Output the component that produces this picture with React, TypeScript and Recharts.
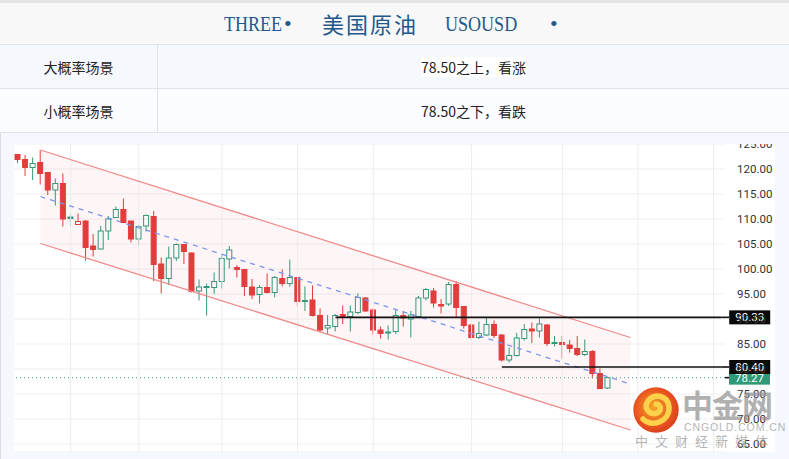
import React from 'react'
import { ComposedChart, Bar, Line, Area, XAxis, YAxis, CartesianGrid, ReferenceLine } from 'recharts'

// weekly candles, oldest first
const opens = [
  122.9, 121.9, 120.3, 121.3, 119.3, 115.8, 117.1, 110.4, 108.9, 109.6,
  104.6, 104.0, 107.6, 110.3, 111.9, 109.6, 106.0, 108.6, 110.5, 101.0,
  98.1, 102.2, 104.9, 103.2, 95.6, 96.3, 96.3, 97.5, 102.0, 100.3,
  99.9, 96.4, 94.9, 96.3, 95.3, 98.1, 97.1, 98.3, 93.6, 93.8,
  90.7, 88.2, 88.5, 90.9, 90.5, 91.3, 94.2, 91.8, 87.8, 87.2,
  87.5, 90.7, 90.0, 90.5, 94.2, 95.6, 92.9, 93.0, 96.9, 92.5,
  88.8, 86.3, 86.8, 88.9, 86.8, 81.8, 82.7, 86.1, 88.0, 87.6,
  88.8, 85.1, 85.3, 84.8, 84.1, 82.9, 83.5, 79.1, 76.2,
]
const highs = [
  123.0, 122.8, 122.3, 123.8, 119.4, 118.1, 119.1, 111.0, 111.1, 109.7,
  107.0, 108.6, 110.6, 112.5, 114.1, 109.6, 108.9, 110.9, 111.6, 102.3,
  104.5, 105.1, 105.0, 103.3, 97.9, 97.1, 99.3, 102.8, 104.6, 100.8,
  100.0, 98.0, 96.8, 99.1, 98.6, 99.9, 101.9, 98.4, 96.5, 96.7,
  92.1, 90.8, 91.0, 92.7, 92.7, 95.1, 94.4, 92.1, 88.5, 88.7,
  91.8, 91.6, 91.6, 94.6, 96.2, 96.2, 94.0, 97.4, 97.6, 92.6,
  89.0, 89.5, 90.3, 89.7, 87.0, 84.3, 87.2, 89.0, 89.3, 90.1,
  89.0, 86.6, 86.6, 85.8, 86.6, 85.9, 83.8, 80.1, 78.3,
]
const lows = [
  121.2, 118.6, 117.8, 116.9, 114.8, 112.7, 108.5, 108.6, 108.8, 101.7,
  102.5, 103.9, 105.8, 110.2, 109.2, 105.3, 104.7, 107.5, 97.6, 95.1,
  96.8, 101.6, 101.0, 95.3, 93.7, 90.7, 95.0, 96.1, 100.1, 98.3,
  94.6, 94.0, 93.1, 95.1, 94.3, 96.5, 96.5, 92.5, 91.6, 90.5,
  87.5, 86.9, 87.5, 89.0, 87.5, 91.0, 91.4, 86.9, 86.1, 85.9,
  87.0, 88.5, 86.3, 90.3, 93.7, 92.3, 91.1, 92.6, 90.3, 88.1,
  85.9, 86.0, 86.6, 86.2, 81.5, 81.3, 82.5, 85.7, 85.2, 86.3,
  84.6, 84.5, 82.1, 83.3, 82.6, 82.6, 78.1, 76.0, 76.0,
]
const closes = [
  121.9, 120.3, 121.1, 119.1, 115.8, 117.1, 110.0, 110.1, 109.5, 104.3,
  103.9, 107.6, 110.0, 111.9, 109.3, 106.0, 108.5, 110.7, 100.9, 98.1,
  102.2, 104.9, 103.5, 95.5, 96.4, 96.5, 97.5, 102.1, 103.8, 99.9,
  96.5, 94.8, 96.3, 95.3, 98.3, 97.1, 98.3, 93.5, 93.7, 90.7,
  87.8, 88.7, 90.7, 90.5, 91.4, 94.3, 91.6, 87.8, 87.1, 87.4,
  90.7, 90.2, 90.8, 94.2, 95.9, 93.2, 92.6, 96.9, 92.3, 88.7,
  86.3, 87.1, 88.9, 86.7, 81.8, 82.7, 86.2, 87.9, 87.6, 89.0,
  85.1, 85.3, 84.9, 84.1, 82.9, 83.5, 79.1, 76.1, 78.27,
]

const slotCount = 94 // candles + empty space on the right
const gridSlots = [7, 16, 27, 37, 47, 60, 72, 82, 92]
const priceTicks = [65, 70, 75, 80, 85, 90, 95, 100, 105, 110, 115, 120, 125]

// descending channel, drawn between two anchor candles
const channelSlots = [3, 81]
const upperEdge = [123.8, 86.3]
const lowerEdge = [105.1, 67.8]
const midLine = [114.5, 77.0]

const resistance = 90.33
const resistanceFrom = 42
const support = 80.4
const supportFrom = 64
const lastPrice = 78.27

const RED = '#e23c3c'
const GREEN = '#35987a'
const TAG_GREEN = '#2e9a7a'

type Row = {
  i: number
  o?: number; h?: number; l?: number; c?: number; pc?: number
  chHi?: number; chLo?: number; chMid?: number
}

const rows: Row[] = Array.from({ length: slotCount }, (_, i) => {
  const r: Row = { i }
  if (i < closes.length) {
    r.o = opens[i]; r.h = highs[i]; r.l = lows[i]; r.c = closes[i]
    r.pc = i > 0 ? closes[i - 1] : opens[i]
  }
  const k = channelSlots.indexOf(i)
  if (k >= 0) {
    r.chHi = upperEdge[k]; r.chLo = lowerEdge[k]; r.chMid = midLine[k]
  }
  return r
})

// hollow candles: body filled when close < open, colour from close vs previous close
function Candle(props: any) {
  const { x, y, width, height, payload } = props
  if (!payload || payload.o == null || !isFinite(y) || !isFinite(height)) return null
  const { o, h, l, c, pc } = payload
  const top = Math.min(y, y + height)
  const span = Math.abs(height)
  const k = h > l ? span / (h - l) : 0
  const py = (v: number) => top + (h - v) * k
  const cx = x + width / 2
  const color = c >= pc ? GREEN : RED
  const hollow = c > o
  const bTop = py(Math.max(o, c))
  const bh = Math.max(py(Math.min(o, c)) - bTop, 1)
  return (
    <g>
      <line x1={cx} x2={cx} y1={py(h)} y2={bTop} stroke={color} strokeWidth={1} />
      <line x1={cx} x2={cx} y1={bTop + bh} y2={py(l)} stroke={color} strokeWidth={1} />
      <rect x={x} y={bTop} width={width} height={bh} fill={hollow ? 'none' : color} stroke={color} strokeWidth={1} />
    </g>
  )
}

function PriceTick({ x, y, payload }: any) {
  return (
    <text x={x} y={y} dy="0.36em" textAnchor="start" fill="#333" fontSize={11.5} fontFamily="Roboto, sans-serif">
      {Number(payload.value).toFixed(2)}
    </text>
  )
}

function PriceTag({ viewBox, text, bg, gap }: any) {
  if (!viewBox) return null
  const right = viewBox.x + viewBox.width
  const y = viewBox.y
  return (
    <g>
      {gap > 0 && <line x1={right} x2={right + gap} y1={y} y2={y} stroke="#111" strokeWidth={1.6} />}
      <rect x={right + gap} y={y - 7} width={41} height={14} fill={bg} />
      <text x={right + gap + 20.5} y={y + 4} textAnchor="middle" fill="#fff" fontSize={11.5} fontFamily="Roboto, sans-serif">
        {text}
      </text>
    </g>
  )
}

function Logo() {
  return (
    <svg width={50} height={50} viewBox="-25 -25 50 50" style={{ position: 'absolute', left: 631, top: 385 }}>
      <defs>
        <radialGradient id="lg" cx="45%" cy="45%" r="60%">
          <stop offset="0%" stopColor="#f5a623" />
          <stop offset="70%" stopColor="#e8531f" />
          <stop offset="100%" stopColor="#d63a1c" />
        </radialGradient>
      </defs>
      <circle r={22.7} fill="url(#lg)" />
      <path d="M -13 9 C -5 18, 14 12, 13 -3 C 12 -15, -2 -17, -8 -9 C -13 -2, -6 6, 1 3 C 6 1, 5 -6, 0 -6"
        fill="none" stroke="#fbd24a" strokeWidth={5.5} strokeLinecap="round" />
    </svg>
  )
}

export default function App() {
  const cjk = '"Noto Sans CJK SC", "Noto Sans", sans-serif'
  const title: React.CSSProperties = {
    position: 'absolute', top: 10, fontFamily: '"Liberation Serif", serif', fontSize: 22,
    color: '#24588a', whiteSpace: 'nowrap', lineHeight: '28px',
  }
  const narrow: React.CSSProperties = { ...title, transform: 'scaleX(0.82)', transformOrigin: 'left center' }
  const cell: React.CSSProperties = {
    position: 'absolute', height: 44, display: 'flex', alignItems: 'center', justifyContent: 'center',
    fontFamily: cjk, fontSize: 14, color: '#222',
  }
  return (
    <div style={{ position: 'relative', width: 789, height: 459, overflow: 'hidden', background: '#f5f8fe' }}>
      <style>{'body{margin:0}'}</style>

      {/* title band */}
      <div style={{ position: 'absolute', left: 0, top: 0, width: 789, height: 3, background: '#e4e4e4' }} />
      <div style={{ position: 'absolute', left: 0, top: 3, width: 789, height: 42, background: '#f8f8f8', borderBottom: '1px solid #e0e0e0', boxSizing: 'border-box' }} />
      <span style={{ ...narrow, left: 224 }}>THREE</span>
      <span style={{ ...title, left: 284 }}>•</span>
      <span style={{ ...title, left: 322, fontFamily: cjk, fontSize: 22, letterSpacing: 2, top: 9 }}>美国原油</span>
      <span style={{ ...narrow, left: 445 }}>USOUSD</span>
      <span style={{ ...title, left: 550 }}>•</span>

      {/* scenario table */}
      <div style={{ position: 'absolute', left: 0, top: 45, width: 789, height: 44, background: '#f5f9fe', borderBottom: '1px solid #dfe3e8', boxSizing: 'border-box' }} />
      <div style={{ position: 'absolute', left: 0, top: 89, width: 789, height: 44, background: '#fbfcff', borderBottom: '1px solid #dfe3e8', boxSizing: 'border-box' }} />
      <div style={{ position: 'absolute', left: 157, top: 45, width: 1, height: 88, background: '#dfe3e8' }} />
      <div style={{ ...cell, left: 0, top: 45, width: 157 }}>大概率场景</div>
      <div style={{ ...cell, left: 158, top: 45, width: 631 }}><span style={{ background: '#fff' }}>78.50之上，看涨</span></div>
      <div style={{ ...cell, left: 0, top: 89, width: 157 }}>小概率场景</div>
      <div style={{ ...cell, left: 158, top: 89, width: 631 }}>78.50之下，看跌</div>

      {/* chart panel */}
      <div style={{ position: 'absolute', left: 0, top: 133, width: 1, height: 326, background: '#dddddd' }} />
      <div style={{ position: 'absolute', left: 14, top: 144, width: 761, height: 308, background: '#fff', overflow: 'hidden' }}>
        <ComposedChart width={761} height={308} data={rows} margin={{ top: 0, right: 0, bottom: 0, left: 0 }}>
          <CartesianGrid vertical={false} stroke="#efefef" />
          <XAxis dataKey="i" type="category" hide />
          <YAxis orientation="right" width={50} domain={[63.4, 125]} ticks={priceTicks} interval={0} allowDataOverflow
            axisLine={false} tickLine={false} tickSize={0} tickMargin={12} tick={<PriceTick />} />
          {gridSlots.map(s => <ReferenceLine key={s} x={s} stroke="#ececec" />)}
          <Area dataKey={(d: Row) => (d.chHi == null ? null : [d.chLo, d.chHi])} connectNulls stroke="none"
            fill="#f23645" fillOpacity={0.05} isAnimationActive={false} activeDot={false} />
          <Line dataKey="chHi" connectNulls stroke="#f08a8a" strokeWidth={1.3} dot={false} activeDot={false} isAnimationActive={false} />
          <Line dataKey="chLo" connectNulls stroke="#f08a8a" strokeWidth={1.3} dot={false} activeDot={false} isAnimationActive={false} />
          <Line dataKey="chMid" connectNulls stroke="#7c94f4" strokeWidth={1.3} strokeDasharray="5 5" dot={false} activeDot={false} isAnimationActive={false} />
          <ReferenceLine y={lastPrice} stroke="#3aa585" strokeDasharray="1 3"
            label={(p: any) => <PriceTag {...p} text={lastPrice.toFixed(2)} bg={TAG_GREEN} gap={4} />} />
          <Bar dataKey={(d: Row) => (d.h == null ? null : [d.l, d.h])} barSize={5} isAnimationActive={false}
            shape={(p: any) => <Candle {...p} />} />
          <ReferenceLine segment={[{ x: resistanceFrom, y: resistance }, { x: slotCount - 1, y: resistance }]} stroke="#111" strokeWidth={1.6}
            label={(p: any) => <PriceTag {...p} text={resistance.toFixed(2)} bg="#0a0a0a" gap={8} />} />
          <ReferenceLine segment={[{ x: supportFrom, y: support }, { x: slotCount - 1, y: support }]} stroke="#111" strokeWidth={1.6}
            label={(p: any) => <PriceTag {...p} text={support.toFixed(2)} bg="#0a0a0a" gap={8} />} />
        </ComposedChart>
      </div>

      {/* watermark */}
      <div style={{ position: 'absolute', left: 0, top: 0, width: 789, height: 459, pointerEvents: 'none' }}>
        <Logo />
        <div style={{ position: 'absolute', left: 682, top: 384, fontFamily: cjk, fontWeight: 700, fontSize: 31, color: 'rgba(150,150,150,0.75)', letterSpacing: -1, lineHeight: '40px' }}>中金网</div>
        <div style={{ position: 'absolute', left: 684, top: 421, fontFamily: '"Liberation Sans", sans-serif', fontSize: 10.5, color: 'rgba(160,160,160,0.8)', letterSpacing: 0.9, lineHeight: '12px' }}>CNGOLD.COM.CN</div>
        <div style={{ position: 'absolute', left: 635, top: 432, fontFamily: cjk, fontSize: 13, color: 'rgba(160,160,160,0.8)', letterSpacing: 7, lineHeight: '17px', whiteSpace: 'nowrap' }}>中文财经新媒体</div>
      </div>
    </div>
  )
}
